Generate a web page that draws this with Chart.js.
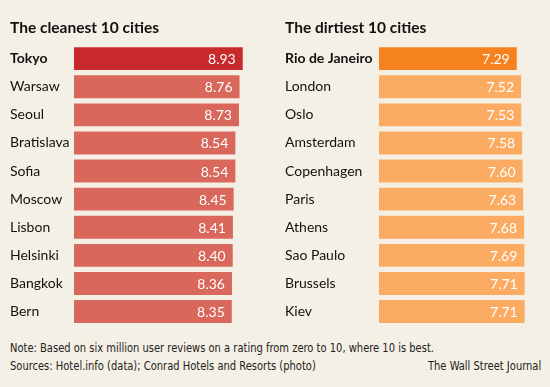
<!DOCTYPE html>
<html>
<head>
<meta charset="utf-8">
<script src="https://cdn.jsdelivr.net/npm/chart.js@4.4.0/dist/chart.umd.min.js"></script>
<style>
  html, body { margin: 0; padding: 0; }
  body { width: 550px; height: 387px; background: #f5f0e5; position: relative; overflow: hidden; font-family: Lato, sans-serif; }
  .panel { position: absolute; top: 0; width: 275px; height: 334px; }
  #left { left: 0; }
  #right { left: 275px; }
  .foot { position: absolute; left: 10px; font-family: "DejaVu Sans Condensed", sans-serif; font-size: 13px; color: #222; white-space: nowrap; transform: scaleX(0.85); transform-origin: left top; }
  #note { top: 340px; }
  #src { top: 358px; }
  #wsj { top: 358px; left: auto; right: 9px; transform-origin: right top; }
</style>
</head>
<body>
<div class="panel" id="left"><canvas id="c1"></canvas></div>
<div class="panel" id="right"><canvas id="c2"></canvas></div>
<div class="foot" id="note">Note: Based on six million user reviews on a rating from zero to 10, where 10 is best.</div>
<div class="foot" id="src">Sources: Hotel.info (data); Conrad Hotels and Resorts (photo)</div>
<div class="foot" id="wsj">The Wall Street Journal</div>
<script>
// cleanest cities
const cleanCities = ['Tokyo', 'Warsaw', 'Seoul', 'Bratislava', 'Sofia', 'Moscow', 'Lisbon', 'Helsinki', 'Bangkok', 'Bern'];
const cleanScores = [8.93, 8.76, 8.73, 8.54, 8.54, 8.45, 8.41, 8.40, 8.36, 8.35];
// dirtiest cities
const dirtyCities = ['Rio de Janeiro', 'London', 'Oslo', 'Amsterdam', 'Copenhagen', 'Paris', 'Athens', 'Sao Paulo', 'Brussels', 'Kiev'];
const dirtyScores = [7.29, 7.52, 7.53, 7.58, 7.60, 7.63, 7.68, 7.69, 7.71, 7.71];

// writes the score inside the end of each bar
const valueLabels = {
  id: 'valueLabels',
  afterDatasetsDraw(chart) {
    const ctx = chart.ctx;
    const meta = chart.getDatasetMeta(0);
    ctx.save();
    ctx.fillStyle = '#ffffff';
    ctx.font = '14px Lato';
    ctx.textAlign = 'right';
    ctx.textBaseline = 'middle';
    meta.data.forEach((bar, i) => {
      ctx.fillText(chart.data.datasets[0].data[i].toFixed(2), bar.x - 7, bar.y + 1);
    });
    ctx.restore();
  }
};

function makeChart(id, title, labels, data, topColor, color, axisWidth, padRight) {
  return new Chart(document.getElementById(id), {
    type: 'bar',
    data: {
      labels: labels,
      datasets: [{
        data: data,
        backgroundColor: data.map((v, i) => i === 0 ? topColor : color),
        barPercentage: 0.816,
        categoryPercentage: 1
      }]
    },
    options: {
      indexAxis: 'y',
      responsive: true,
      maintainAspectRatio: false,
      animation: false,
      layout: { padding: { left: 10, right: padRight, bottom: 4 } },
      plugins: {
        legend: { display: false },
        tooltip: { enabled: false },
        title: {
          display: true,
          text: title,
          align: 'start',
          color: '#111',
          font: { family: 'Lato', size: 15.5, weight: 'bold' },
          padding: { top: 19, bottom: 7 }
        }
      },
      scales: {
        x: { display: false, min: 0, max: 9.05 },
        y: {
          grid: { display: false },
          border: { display: false },
          afterFit(scale) { scale.width = axisWidth; },
          ticks: {
            crossAlign: 'far',
            color: '#111',
            padding: 0,
            font: (c) => ({ family: 'Lato', size: 14, weight: c.index === 0 ? 'bold' : 'normal' })
          }
        }
      }
    },
    plugins: [valueLabels]
  });
}

makeChart('c1', 'The cleanest 10 cities', cleanCities, cleanScores, '#c8292a', '#d9675b', 64, 30);
makeChart('c2', 'The dirtiest 10 cities', dirtyCities, dirtyScores, '#f5821f', '#fbab62', 94, 0);
</script>
</body>
</html>
